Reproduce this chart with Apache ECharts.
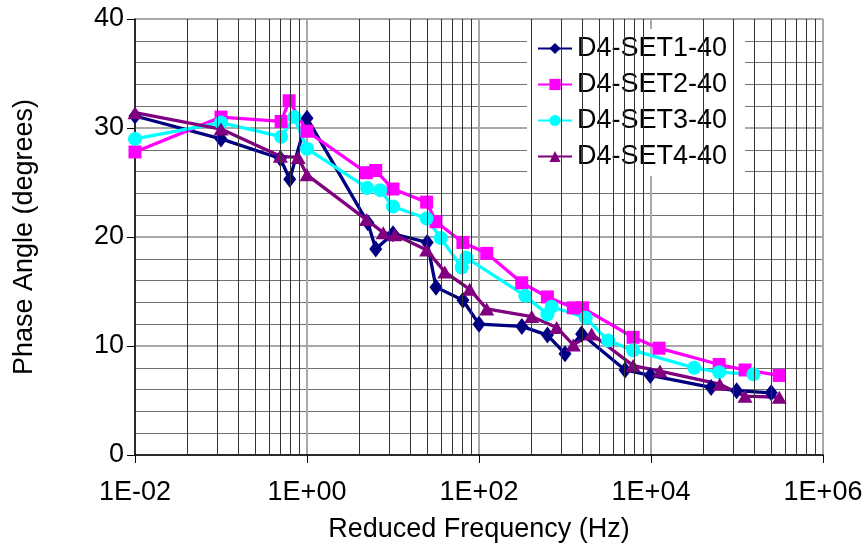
<!DOCTYPE html>
<html>
<head>
<meta charset="utf-8">
<script src="https://cdn.jsdelivr.net/npm/echarts@6/dist/echarts.min.js"></script>
<style>
html,body{margin:0;padding:0;background:#fff;}
#chart{width:868px;height:550px;}
</style>
</head>
<body>
<div id="chart"></div>
<script>
// ---- data ----
const seriesNames = ['D4-SET1-40', 'D4-SET2-40', 'D4-SET3-40', 'D4-SET4-40'];

const set1X = [0.01, 0.1, 0.49, 0.63, 1.0, 5.1, 6.3, 10, 25, 31.6, 65, 100, 315, 625, 1000, 1560, 5000, 9800, 50000, 99000, 250000];
const set1Y = [31.1, 29.0, 27.2, 25.3, 30.9, 21.3, 18.9, 20.3, 19.5, 15.4, 14.2, 12.0, 11.8, 11.0, 9.3, 11.1, 7.8, 7.3, 6.2, 5.9, 5.7];

const set2X = [0.01, 0.1, 0.5, 0.62, 1.0, 4.9, 6.3, 10, 24.6, 31.6, 65, 123, 314, 624, 1250, 1600, 6200, 12400, 62000, 124000, 310000];
const set2Y = [27.8, 31.0, 30.6, 32.5, 29.7, 25.9, 26.1, 24.4, 23.2, 21.4, 19.5, 18.5, 15.8, 14.5, 13.5, 13.5, 10.8, 9.8, 8.3, 7.8, 7.3];

const set3X = [0.01, 0.1, 0.5, 0.71, 1.0, 5.0, 7.1, 10, 24.6, 36, 63, 71, 345, 624, 700, 1740, 3170, 6200, 31800, 62000, 155000];
const set3Y = [29.0, 30.5, 29.2, 31.0, 28.1, 24.5, 24.3, 22.8, 21.7, 19.9, 17.2, 18.1, 14.6, 12.9, 13.6, 12.6, 10.5, 9.6, 8.0, 7.6, 7.4];

const set4X = [0.01, 0.1, 0.49, 0.79, 1.0, 4.9, 7.7, 10.5, 24.6, 40, 78, 123, 410, 800, 1250, 2040, 6200, 12700, 63000, 124000, 310000];
const set4Y = [31.4, 29.9, 27.4, 27.3, 25.7, 21.6, 20.4, 20.2, 18.8, 16.8, 15.2, 13.4, 12.7, 11.7, 10.1, 11.1, 8.2, 7.7, 6.5, 5.4, 5.3];

const xMin = 0.01, xMax = 1e6;
const yMin = 0, yMax = 40, yInterval = 10;

// ---- helpers ----
function zip(xs, ys) { return xs.map((x, i) => [x, ys[i]]); }
function expLabel(v) {
  const e = Math.round(Math.log10(v));
  const s = e < 0 ? '-' : '+';
  const a = Math.abs(e);
  return '1E' + s + (a < 10 ? '0' + a : '' + a);
}
// minor vertical grid positions (major unit = 2 decades, minor marks like the original)
const minorX = [];
for (let n = 0; n < 4; n++) {
  for (let k = 2; k <= 9; k++) minorX.push(xMin * Math.pow(100, n) * k * k);
}

const FONT = 'Liberation Sans, Arial, sans-serif';
const FS = 27;
const colors = ['#000080', '#FF00FF', '#00FFFF', '#800080'];
const symbols = ['diamond', 'rect', 'circle', 'triangle'];
const sizes = [[13, 17], 13, 14, [15, 13]];
const xs = [set1X, set2X, set3X, set4X];
const ys = [set1Y, set2Y, set3Y, set4Y];

const series = [{
  name: 'grid',
  type: 'line',
  data: [],
  z: 1,
  silent: true,
  markLine: {
    silent: true,
    symbol: ['none', 'none'],
    label: { show: false },
    lineStyle: { color: '#333333', width: 1, type: 'solid' },
    emphasis: { disabled: true },
    animation: false,
    data: minorX.map(v => ({ xAxis: v }))
  }
}];
for (let i = 0; i < 4; i++) {
  series.push({
    name: seriesNames[i],
    type: 'line',
    z: 3,
    data: zip(xs[i], ys[i]),
    symbol: symbols[i],
    symbolSize: sizes[i],
    itemStyle: { color: colors[i] },
    lineStyle: { color: colors[i], width: 3.3 },
    emphasis: { disabled: true }
  });
}

const chart = echarts.init(document.getElementById('chart'), null, { renderer: 'canvas' });
chart.setOption({
  animation: false,
  backgroundColor: '#fff',
  textStyle: { fontFamily: FONT },
  grid: { left: 135, right: 45, top: 19, bottom: 95, containLabel: false },
  legend: {
    data: seriesNames,
    orient: 'vertical',
    left: 527,
    top: 29,
    padding: [6, 18, 6, 10],
    itemGap: 9,
    itemWidth: 34,
    itemHeight: 14,
    backgroundColor: '#ffffff',
    textStyle: { fontFamily: FONT, fontSize: FS, color: '#000', lineHeight: 27 }
  },
  xAxis: {
    type: 'log',
    logBase: 100,
    min: xMin,
    max: xMax,
    name: 'Reduced Frequency (Hz)',
    nameLocation: 'middle',
    nameGap: 61,
    nameTextStyle: { fontFamily: FONT, fontSize: FS, color: '#000' },
    axisLine: { show: true, onZero: false, lineStyle: { color: '#000', width: 1.5 } },
    axisTick: { show: true, inside: false, length: 8, lineStyle: { color: '#000', width: 1 } },
    axisLabel: { fontFamily: FONT, fontSize: FS, color: '#000', margin: 24, formatter: expLabel },
    splitLine: { show: true, lineStyle: { color: '#A8A8A8', width: 2 } },
    minorTick: { show: false },
    minorSplitLine: { show: false }
  },
  yAxis: {
    type: 'value',
    min: yMin,
    max: yMax,
    interval: yInterval,
    name: 'Phase Angle (degrees)',
    nameLocation: 'middle',
    nameGap: 97,
    nameTextStyle: { fontFamily: FONT, fontSize: FS, color: '#000' },
    axisLine: { show: true, onZero: false, lineStyle: { color: '#000', width: 1.5 } },
    axisTick: { show: true, inside: false, length: 8, lineStyle: { color: '#000', width: 1 } },
    axisLabel: { fontFamily: FONT, fontSize: FS, color: '#000', margin: 11 },
    splitLine: { show: true, lineStyle: { color: '#A8A8A8', width: 2 } },
    minorTick: { show: false, splitNumber: 5 },
    minorSplitLine: { show: true, lineStyle: { color: '#707070', width: 1 } }
  },
  series: series
});
</script>
</body>
</html>
